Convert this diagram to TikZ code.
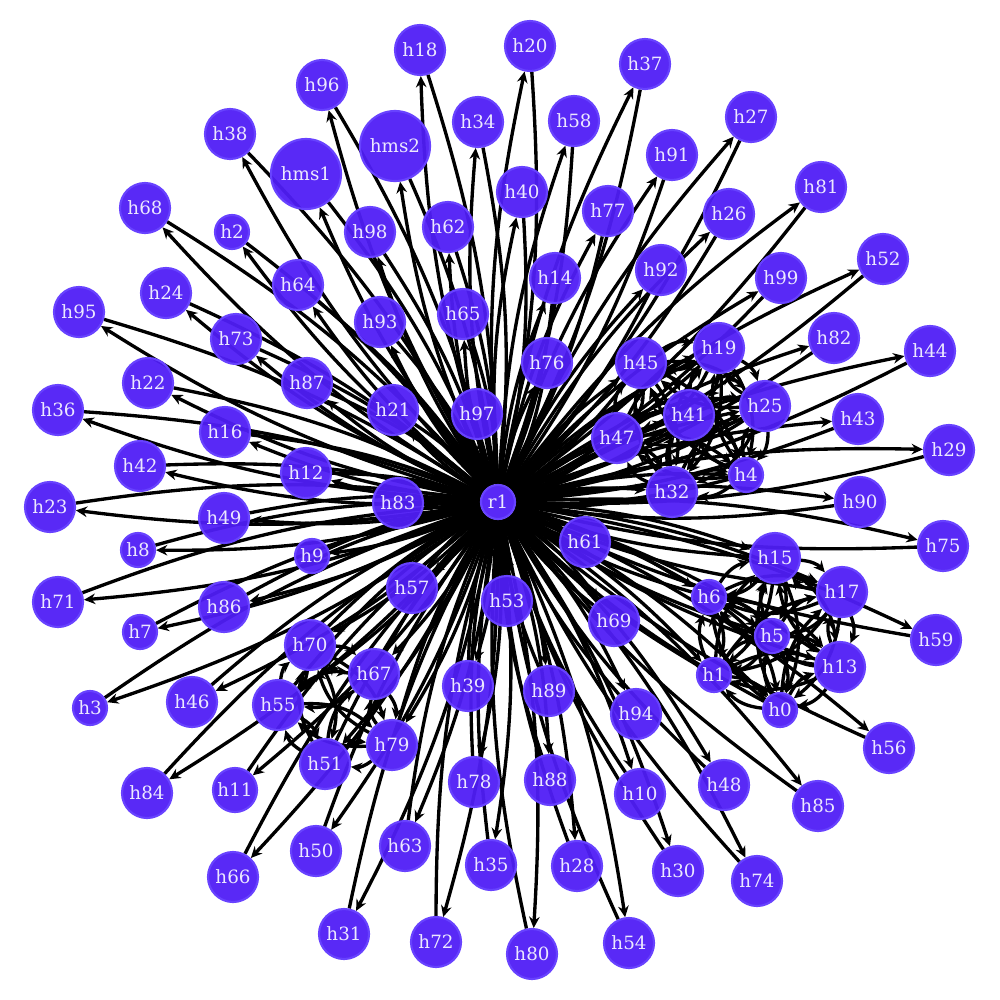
\documentclass[tikz,border=0pt]{standalone}
\usepackage{fontspec}
\setmainfont{DejaVu Serif}
\usetikzlibrary{positioning,arrows.meta}
\pgfdeclarelayer{bg}
\pgfsetlayers{bg,main}
\definecolor{hfill}{RGB}{80,30,245}
\definecolor{hring}{RGB}{104,66,255}
\definecolor{htext}{RGB}{236,232,255}
\tikzstyle{host} = [circle, draw=hring, line width=0.6pt, fill=hfill, fill opacity=0.95, text opacity=1, text=htext, minimum size=0.5cm, inner sep=0pt, font=\fontsize{5.2}{6}\selectfont]
\tikzstyle{hsmall} = [host, minimum size=0.34cm]
\tikzstyle{hbig} = [host, minimum size=0.7cm]
\tikzstyle{line} = [draw, line width=0.95pt, -{Stealth[length=3.2pt,width=3pt]}]
\tikzstyle{spoke} = [line, bend left=8]
\tikzstyle{mesh} = [line, bend left=22]

\begin{document}
\begin{tikzpicture}[x=0.01cm, y=-0.01cm]
        \useasboundingbox (0,0) rectangle (1000,1000);
        % Place nodes
        \node at (498, 502) [hsmall] (r1) {r1};
        \node at (395, 146) [hbig] (hms2) {hms2};
        \node at (306, 174) [hbig] (hms1) {hms1};
        \node at (420, 50) [host] (h18) {h18};
        \node at (530, 46) [host] (h20) {h20};
        \node at (645, 64) [host] (h37) {h37};
        \node at (322, 85) [host] (h96) {h96};
        \node at (478, 122) [host] (h34) {h34};
        \node at (574, 121) [host] (h58) {h58};
        \node at (751, 117) [host] (h27) {h27};
        \node at (230, 134) [host] (h38) {h38};
        \node at (672, 155) [host] (h91) {h91};
        \node at (145, 208) [host] (h68) {h68};
        \node at (232, 232) [hsmall] (h2) {h2};
        \node at (522, 192) [host] (h40) {h40};
        \node at (608, 211) [host] (h77) {h77};
        \node at (821, 187) [host] (h81) {h81};
        \node at (729, 214) [host] (h26) {h26};
        \node at (370, 232) [host] (h98) {h98};
        \node at (448, 227) [host] (h62) {h62};
        \node at (298, 285) [host] (h64) {h64};
        \node at (166, 293) [host] (h24) {h24};
        \node at (555, 278) [host] (h14) {h14};
        \node at (661, 270) [host] (h92) {h92};
        \node at (781, 278) [host] (h99) {h99};
        \node at (883, 259) [host] (h52) {h52};
        \node at (79, 312) [host] (h95) {h95};
        \node at (236, 339) [host] (h73) {h73};
        \node at (380, 322) [host] (h93) {h93};
        \node at (463, 314) [host] (h65) {h65};
        \node at (547, 363) [host] (h76) {h76};
        \node at (641, 363) [host] (h45) {h45};
        \node at (719, 348) [host] (h19) {h19};
        \node at (834, 338) [host] (h82) {h82};
        \node at (930, 351) [host] (h44) {h44};
        \node at (148, 383) [host] (h22) {h22};
        \node at (307, 383) [host] (h87) {h87};
        \node at (393, 410) [host] (h21) {h21};
        \node at (477, 414) [host] (h97) {h97};
        \node at (689, 415) [host] (h41) {h41};
        \node at (765, 406) [host] (h25) {h25};
        \node at (858, 419) [host] (h43) {h43};
        \node at (58, 410) [host] (h36) {h36};
        \node at (225, 432) [host] (h16) {h16};
        \node at (617, 438) [host] (h47) {h47};
        \node at (949, 450) [host] (h29) {h29};
        \node at (140, 466) [host] (h42) {h42};
        \node at (306, 473) [host] (h12) {h12};
        \node at (746, 475) [hsmall] (h4) {h4};
        \node at (672, 492) [host] (h32) {h32};
        \node at (860, 502) [host] (h90) {h90};
        \node at (50, 507) [host] (h23) {h23};
        \node at (398, 503) [host] (h83) {h83};
        \node at (224, 518) [host] (h49) {h49};
        \node at (138, 550) [hsmall] (h8) {h8};
        \node at (312, 556) [hsmall] (h9) {h9};
        \node at (585, 542) [host] (h61) {h61};
        \node at (943, 546) [host] (h75) {h75};
        \node at (775, 558) [host] (h15) {h15};
        \node at (58, 602) [host] (h71) {h71};
        \node at (412, 588) [host] (h57) {h57};
        \node at (507, 601) [host] (h53) {h53};
        \node at (224, 607) [host] (h86) {h86};
        \node at (709, 597) [hsmall] (h6) {h6};
        \node at (842, 592) [host] (h17) {h17};
        \node at (936, 640) [host] (h59) {h59};
        \node at (140, 632) [hsmall] (h7) {h7};
        \node at (614, 621) [host] (h69) {h69};
        \node at (310, 645) [host] (h70) {h70};
        \node at (772, 636) [hsmall] (h5) {h5};
        \node at (840, 667) [host] (h13) {h13};
        \node at (374, 674) [host] (h67) {h67};
        \node at (714, 675) [hsmall] (h1) {h1};
        \node at (468, 686) [host] (h39) {h39};
        \node at (549, 691) [host] (h89) {h89};
        \node at (90, 708) [hsmall] (h3) {h3};
        \node at (192, 702) [host] (h46) {h46};
        \node at (278, 705) [host] (h55) {h55};
        \node at (780, 710) [hsmall] (h0) {h0};
        \node at (636, 714) [host] (h94) {h94};
        \node at (392, 745) [host] (h79) {h79};
        \node at (889, 748) [host] (h56) {h56};
        \node at (325, 764) [host] (h51) {h51};
        \node at (474, 782) [host] (h78) {h78};
        \node at (550, 780) [host] (h88) {h88};
        \node at (724, 785) [host] (h48) {h48};
        \node at (147, 793) [host] (h84) {h84};
        \node at (235, 790) [host, minimum size=0.44cm] (h11) {h11};
        \node at (640, 794) [host] (h10) {h10};
        \node at (818, 806) [host] (h85) {h85};
        \node at (316, 851) [host] (h50) {h50};
        \node at (405, 846) [host] (h63) {h63};
        \node at (491, 865) [host] (h35) {h35};
        \node at (577, 866) [host] (h28) {h28};
        \node at (678, 871) [host] (h30) {h30};
        \node at (757, 881) [host] (h74) {h74};
        \node at (233, 877) [host] (h66) {h66};
        \node at (344, 934) [host] (h31) {h31};
        \node at (436, 942) [host] (h72) {h72};
        \node at (532, 954) [host] (h80) {h80};
        \node at (629, 943) [host] (h54) {h54};

        % Draw edges
        \begin{pgfonlayer}{bg}
        \foreach \n in {hms1,hms2,h0,h1,h2,h3,h4,h5,h6,h7,h8,h9,h10,h11,h12,h13,h14,h15,h16,h17,h18,h19,h20,h21,h22,h23,h24,h25,h26,h27,h28,h29,h30,h31,h32,h34,h35,h36,h37,h38,h39,h40,h41,h42,h43,h44,h45,h46,h47,h48,h49,h50,h51,h52,h53,h54,h55,h56,h57,h58,h59,h61,h62,h63,h64,h65,h66,h67,h68,h69,h70,h71,h72,h73,h74,h75,h76,h77,h78,h79,h80,h81,h82,h83,h84,h85,h86,h87,h88,h89,h90,h91,h92,h93,h94,h95,h96,h97,h98,h99} {
            \path [spoke] (r1) to (\n);
            \path [spoke] (\n) to (r1);
        }
        \foreach \a in {h45,h19,h41,h25,h47,h32,h4}
            \foreach \b in {h45,h19,h41,h25,h47,h32,h4}
                {\ifx\a\b\else \path [mesh] (\a) to (\b);\fi}
        \foreach \a in {h15,h6,h17,h5,h1,h13,h0}
            \foreach \b in {h15,h6,h17,h5,h1,h13,h0}
                {\ifx\a\b\else \path [mesh] (\a) to (\b);\fi}
        \foreach \a in {h70,h55,h67,h79,h51}
            \foreach \b in {h70,h55,h67,h79,h51}
                {\ifx\a\b\else \path [mesh] (\a) to (\b);\fi}
        \end{pgfonlayer}
\end{tikzpicture}
\end{document}
